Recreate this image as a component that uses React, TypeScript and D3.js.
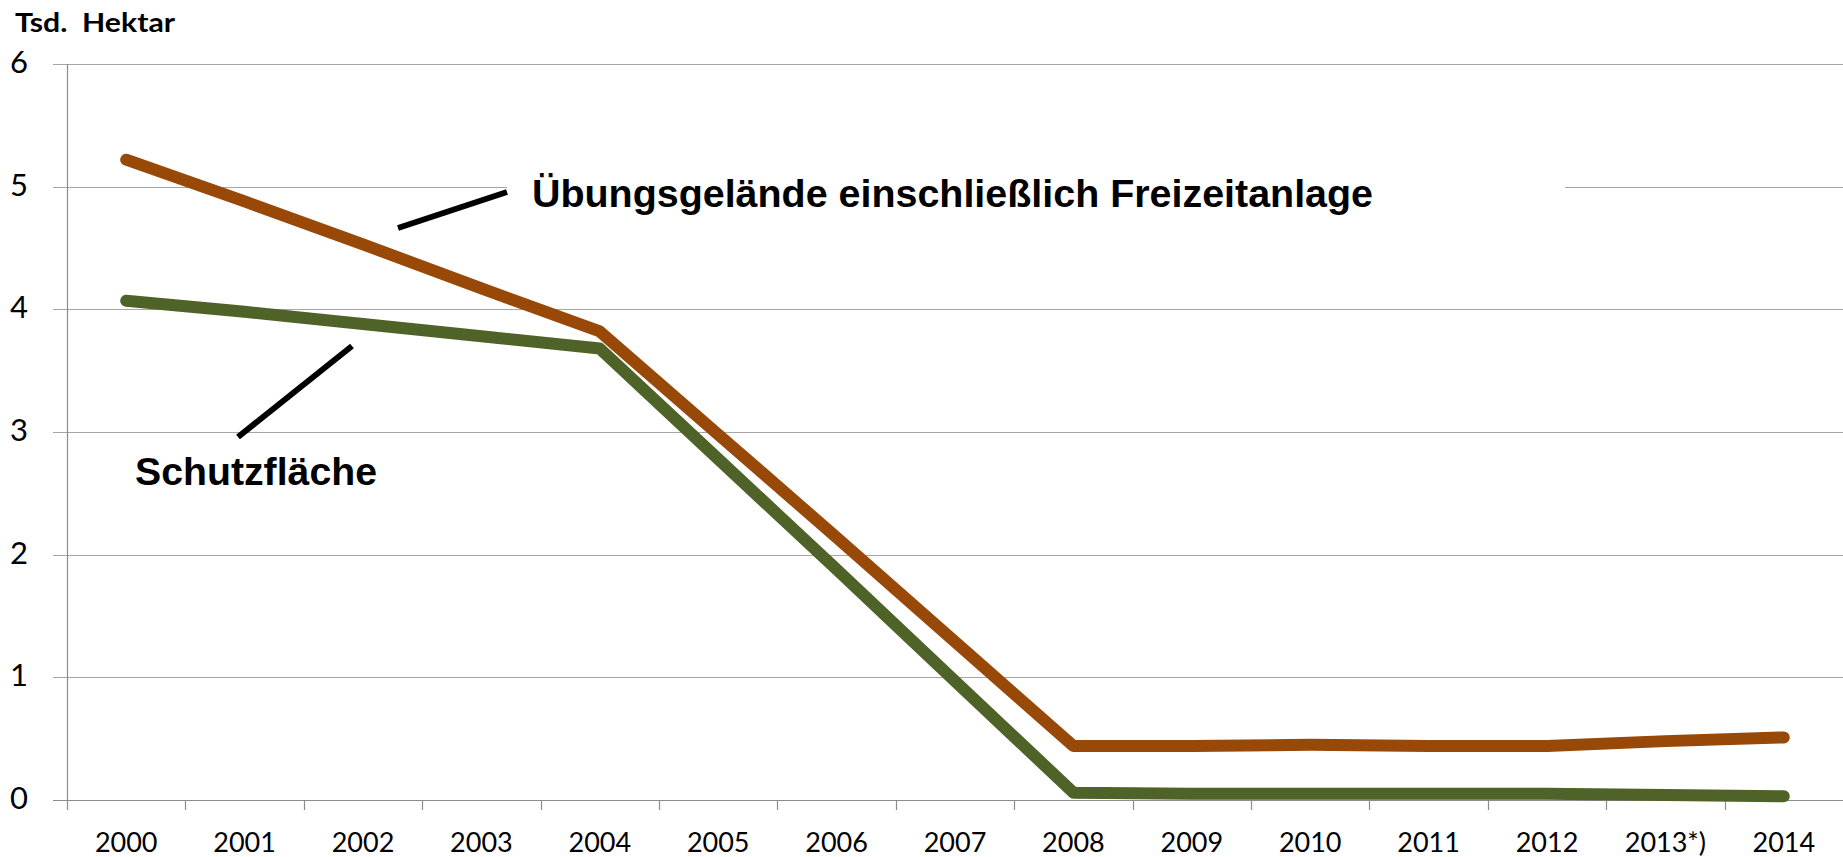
import React, { useEffect, useRef } from "react";
import * as d3 from "d3";

const years = ["2000", "2001", "2002", "2003", "2004", "2005", "2006", "2007", "2008", "2009", "2010", "2011", "2012", "2013*)", "2014"];
const uebungsgelaende = [5.22, 4.88, 4.53, 4.17, 3.82, 2.98, 2.14, 1.29, 0.44, 0.44, 0.45, 0.44, 0.44, 0.48, 0.51];
const schutzflaeche = [4.07, 3.98, 3.88, 3.78, 3.68, 2.78, 1.88, 0.97, 0.06, 0.05, 0.05, 0.05, 0.05, 0.04, 0.03];
const yTicks = [0, 1, 2, 3, 4, 5, 6];

const App = () => {
  const ref = useRef<SVGSVGElement>(null);

  useEffect(() => {
    const width = 1843;
    const height = 857;
    const svg = d3.select(ref.current);
    svg.selectAll("*").remove();
    svg.attr("width", width).attr("height", height);

    const x = d3.scaleBand().domain(years).range([67, 1843]);
    const y = d3.scaleLinear().domain([0, 6]).range([800, 64]);
    const cx = (d: string) => (x(d) as number) + x.bandwidth() / 2;

    // gridlines
    svg
      .append("g")
      .selectAll("line")
      .data(yTicks)
      .enter()
      .append("line")
      .attr("x1", 53)
      .attr("x2", width)
      .attr("y1", (d) => Math.round(y(d)) + 0.5)
      .attr("y2", (d) => Math.round(y(d)) + 0.5)
      .attr("stroke", (d) => (d === 0 ? "#8c8c8c" : "#a6a6a6"))
      .attr("stroke-width", 1.2);

    // y axis line
    svg
      .append("line")
      .attr("x1", 67.5)
      .attr("x2", 67.5)
      .attr("y1", y(6))
      .attr("y2", 810)
      .attr("stroke", "#8c8c8c")
      .attr("stroke-width", 1.2);

    // x ticks
    svg
      .append("g")
      .selectAll("line")
      .data(years.slice(1))
      .enter()
      .append("line")
      .attr("x1", (d) => Math.round(x(d) as number) + 0.5)
      .attr("x2", (d) => Math.round(x(d) as number) + 0.5)
      .attr("y1", 800)
      .attr("y2", 810)
      .attr("stroke", "#8c8c8c")
      .attr("stroke-width", 1.2);

    // y labels
    svg
      .append("g")
      .selectAll("text")
      .data(yTicks)
      .enter()
      .append("text")
      .attr("x", 28)
      .attr("y", (d) => y(d) + 9)
      .attr("text-anchor", "end")
      .style("font-family", "Lato")
      .style("font-size", "31px")
      .style("fill", "#000")
      .text((d) => d);

    // x labels
    svg
      .append("g")
      .selectAll("text")
      .data(years)
      .enter()
      .append("text")
      .attr("x", (d) => cx(d))
      .attr("y", 852)
      .attr("text-anchor", "middle")
      .style("font-family", "Lato")
      .style("font-size", "27px")
      .style("fill", "#000")
      .text((d) => d);

    // unit label
    svg
      .append("text")
      .attr("x", 15)
      .attr("y", 32)
      .attr("textLength", 160)
      .attr("lengthAdjust", "spacingAndGlyphs")
      .style("font-family", "Lato")
      .style("font-weight", "bold")
      .style("font-size", "26px")
      .style("white-space", "pre")
      .text("Tsd.  Hektar");

    // white box behind the upper label (breaks the gridline)
    svg
      .append("rect")
      .attr("x", 507)
      .attr("y", 170)
      .attr("width", 1565 - 507)
      .attr("height", 45)
      .attr("fill", "#fff");

    const line = d3
      .line<number>()
      .x((d, i) => cx(years[i]))
      .y((d) => y(d));

    svg
      .append("path")
      .datum(schutzflaeche)
      .attr("fill", "none")
      .attr("stroke", "#4f6228")
      .attr("stroke-width", 12)
      .attr("stroke-linecap", "round")
      .attr("stroke-linejoin", "round")
      .attr("d", line);

    svg
      .append("path")
      .datum(uebungsgelaende)
      .attr("fill", "none")
      .attr("stroke", "#984807")
      .attr("stroke-width", 12)
      .attr("stroke-linecap", "round")
      .attr("stroke-linejoin", "round")
      .attr("d", line);

    // leader lines
    svg
      .append("line")
      .attr("x1", 398)
      .attr("y1", 228)
      .attr("x2", 507)
      .attr("y2", 192)
      .attr("stroke", "#000")
      .attr("stroke-width", 6);

    svg
      .append("line")
      .attr("x1", 238)
      .attr("y1", 437)
      .attr("x2", 352)
      .attr("y2", 346)
      .attr("stroke", "#000")
      .attr("stroke-width", 6);

    svg
      .append("text")
      .attr("x", 532)
      .attr("y", 207)
      .attr("textLength", 841)
      .attr("lengthAdjust", "spacingAndGlyphs")
      .style("font-family", "Liberation Sans")
      .style("font-weight", "bold")
      .style("font-size", "39.5px")
      .text("Übungsgelände einschließlich Freizeitanlage");

    svg
      .append("text")
      .attr("x", 135)
      .attr("y", 485)
      .attr("textLength", 242)
      .attr("lengthAdjust", "spacingAndGlyphs")
      .style("font-family", "Liberation Sans")
      .style("font-weight", "bold")
      .style("font-size", "39.5px")
      .text("Schutzfläche");
  }, []);

  return (
    <div style={{ position: "absolute", left: 0, top: 0 }}>
      <svg ref={ref} style={{ display: "block", background: "#fff" }}></svg>
    </div>
  );
};

export default App;
